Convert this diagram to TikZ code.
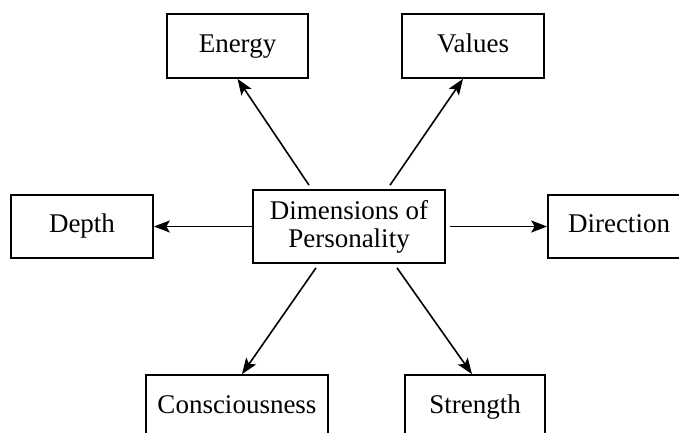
\documentclass[tikz,border=0pt]{standalone}
\usepackage{fontspec}
\setmainfont{Liberation Serif}
\usetikzlibrary{arrows.meta}

\begin{document}
\begin{tikzpicture}[x=1pt, y=-1pt,
		every edge/.style = {draw=black, line width=1.6pt,
			-{Stealth[length=16pt, width=12pt, inset=3.5pt]}},
		dimbox/.style = {rectangle, draw, line width=1.7pt, inner sep=0pt,
			minimum height=64pt, text height=18.5pt, text depth=6pt,
			font=\fontsize{27}{28}\selectfont}
                    ]
		\clip (0,0) rectangle (679,433);

		\node(dim) [dimbox, minimum width=192pt, minimum height=73pt, align=center,
			text height=, text depth=] at (349, 226.5) {Dimensions of\\Personality};
		\node(energy) [dimbox, minimum width=141pt] at (237.5, 46) {Energy};
		\node(values) [dimbox, minimum width=142pt] at (473, 46) {Values};
		\node(depth) [dimbox, minimum width=142pt, minimum height=63pt] at (82, 226.5) {Depth};
		\node(direction) [dimbox, minimum width=142pt, minimum height=63pt] at (619, 226.5) {Direction};
		\node(consc) [dimbox, minimum width=182pt] at (237, 407) {Consciousness};
		\node(strength) [dimbox, minimum width=140pt] at (475, 407) {Strength};

		\path   ([xshift=-40pt, yshift=4pt]dim.north) edge (energy.south);
		\path   ([xshift=41pt, yshift=4pt]dim.north) edge ([xshift=-10pt]values.south);
		\path   (dim.west) edge (depth.east);
		\path   ([xshift=4pt]dim.east) edge (direction.west);
		\path   ([xshift=-33pt, yshift=-4pt]dim.south) edge ([xshift=5pt]consc.north);
		\path   ([xshift=48pt, yshift=-4pt]dim.south) edge ([xshift=-3pt]strength.north);
	\end{tikzpicture}
\end{document}
